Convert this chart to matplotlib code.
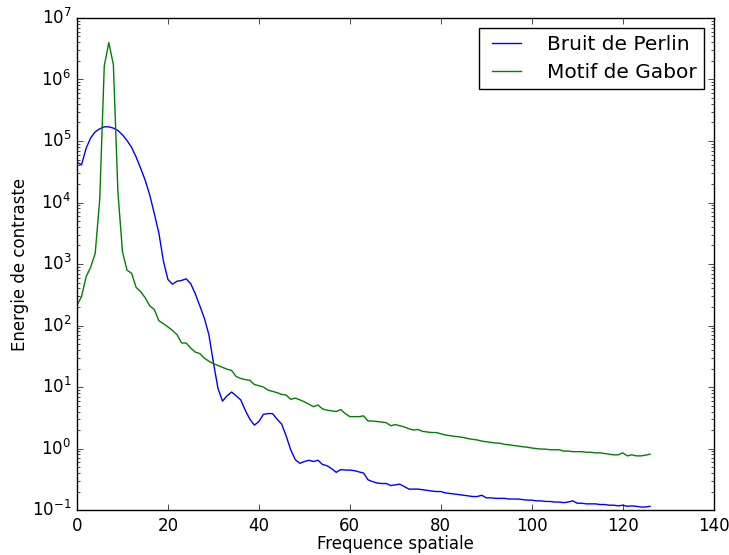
import matplotlib
matplotlib.use('Agg')
import matplotlib.pyplot as plt
import numpy as np

plt.style.use('classic')

freq = np.arange(127)

perlin = [45000, 41000, 76000, 112000, 141000, 158000, 170000, 170000, 162000, 148000,
          126000, 102000, 79000, 55000, 36000, 23000, 13200, 6600, 3200, 1120,
          560, 470, 525, 540, 575, 480, 330, 210, 132, 71,
          25, 9.5, 5.9, 7.2, 8.3, 7.2, 6.2, 4.2, 3.0, 2.4,
          2.75, 3.6, 3.7, 3.7, 3.0, 2.5, 1.6, 0.95, 0.66, 0.575,
          0.615, 0.645, 0.615, 0.645, 0.55, 0.525, 0.47, 0.41, 0.455, 0.447,
          0.447, 0.437, 0.417, 0.40, 0.31, 0.29, 0.275, 0.27, 0.27, 0.25,
          0.257, 0.263, 0.24, 0.219, 0.219, 0.219, 0.214, 0.209, 0.204, 0.20,
          0.20, 0.19, 0.186, 0.182, 0.178, 0.174, 0.17, 0.166, 0.166, 0.174,
          0.158, 0.158, 0.155, 0.155, 0.155, 0.151, 0.151, 0.151, 0.148, 0.145,
          0.145, 0.141, 0.141, 0.138, 0.138, 0.135, 0.135, 0.132, 0.135, 0.141,
          0.129, 0.129, 0.126, 0.126, 0.126, 0.123, 0.123, 0.12, 0.12, 0.117,
          0.12, 0.115, 0.117, 0.115, 0.112, 0.112, 0.115]

gabor = [214, 295, 617, 890, 1480, 11200, 1.66e6, 3.98e6, 1.74e6, 14800,
         1580, 794, 708, 417, 355, 282, 209, 182, 120, 107,
         95, 83, 71, 52, 52, 43, 37, 35, 29.5, 26.3,
         24, 22.4, 20.9, 19.5, 18.6, 14.8, 13.8, 13.2, 12.9, 11.0,
         10.5, 10.0, 8.9, 8.5, 8.1, 7.6, 7.4, 6.3, 6.6, 6.2,
         5.75, 5.25, 4.8, 5.1, 4.4, 4.2, 4.1, 4.0, 4.3, 3.7,
         3.3, 3.3, 3.3, 3.4, 2.8, 2.8, 2.75, 2.7, 2.63, 2.35,
         2.45, 2.35, 2.24, 2.09, 2.0, 2.04, 1.9, 1.86, 1.82, 1.82,
         1.74, 1.66, 1.62, 1.58, 1.55, 1.51, 1.45, 1.41, 1.38, 1.32,
         1.29, 1.26, 1.23, 1.22, 1.17, 1.15, 1.12, 1.10, 1.07, 1.05,
         1.02, 1.00, 0.98, 0.98, 0.955, 0.955, 0.955, 0.91, 0.91, 0.89,
         0.89, 0.89, 0.87, 0.87, 0.85, 0.85, 0.83, 0.81, 0.79, 0.79,
         0.85, 0.76, 0.79, 0.76, 0.76, 0.78, 0.81]

fig = plt.figure(figsize=(7.29, 5.55), dpi=100, facecolor='white')
ax = fig.add_axes([0.1056, 0.081, 0.8734, 0.8866])

ax.plot(freq, perlin, color='b', label='Bruit de Perlin')
ax.plot(freq, gabor, color='g', label='Motif de Gabor')

ax.set_yscale('log')
ax.set_xlim(0, 140)
ax.set_ylim(1e-1, 1e7)
ax.set_xlabel('Frequence spatiale', fontsize=12, labelpad=0)
ax.set_ylabel('Energie de contraste', fontsize=12, labelpad=2)
ax.tick_params(labelsize=12)
ax.tick_params(axis='x', pad=5)

ax.legend(loc='upper right', fontsize=14.5, handletextpad=1.0,
          borderpad=0.35, labelspacing=0.45)

fig.savefig('out.png', dpi=100, facecolor='white')
